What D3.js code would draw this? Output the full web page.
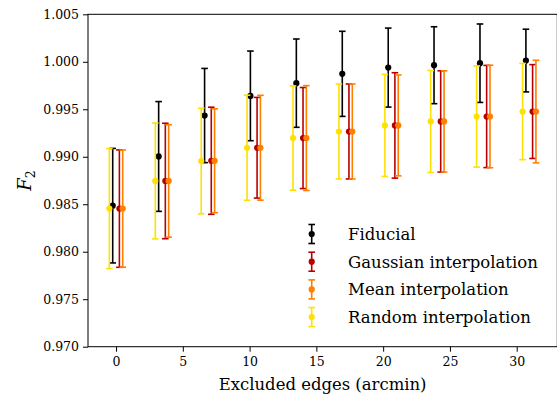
<!DOCTYPE html>
<html>
<head>
<meta charset="utf-8">
<script src="https://cdn.jsdelivr.net/npm/d3@7"></script>
<style>
  body { margin: 0; background: #fff; }
  svg { display: block; }
  text { font-family: "DejaVu Serif", serif; fill: #000; }
</style>
</head>
<body>
<svg id="chart" width="557" height="397"></svg>
<script>
// Excluded edge widths (arcmin)
const edges = [0, 3.44, 6.88, 10.31, 13.75, 17.19, 20.63, 24.06, 27.50, 30.94];

// F2 estimates and 1-sigma errors per method
const fiducial    = [0.98485, 0.99003, 0.99434, 0.99641, 0.99775, 0.99873, 0.99939, 0.99964, 0.99985, 1.00013];
const fiducialErr = [0.00603, 0.00578, 0.00496, 0.00472, 0.00465, 0.00448, 0.00416, 0.00405, 0.00413, 0.00330];

const gaussian    = [0.98454, 0.98745, 0.98958, 0.99095, 0.99197, 0.99266, 0.99330, 0.99372, 0.99424, 0.99476];
const gaussianErr = [0.00618, 0.00608, 0.00564, 0.00530, 0.00532, 0.00500, 0.00555, 0.00533, 0.00538, 0.00494];

const meanInt     = [0.98454, 0.98745, 0.98958, 0.99095, 0.99197, 0.99266, 0.99330, 0.99372, 0.99424, 0.99476];
const meanIntErr  = [0.00617, 0.00592, 0.00547, 0.00552, 0.00552, 0.00500, 0.00531, 0.00533, 0.00540, 0.00540];

const randomInt    = [0.98454, 0.98745, 0.98955, 0.99095, 0.99197, 0.99266, 0.99330, 0.99372, 0.99424, 0.99476];
const randomIntErr = [0.00632, 0.00610, 0.00556, 0.00553, 0.00549, 0.00500, 0.00537, 0.00537, 0.00533, 0.00507];

const seriesLabels = ["Fiducial", "Gaussian interpolation", "Mean interpolation", "Random interpolation"];

const xTicks = [0, 5, 10, 15, 20, 25, 30];
const yTicks = [0.970, 0.975, 0.980, 0.985, 0.990, 0.995, 1.000, 1.005];

// Series styling and horizontal dodge (in arcmin) so the bars don't overlap
const series = [
  { label: seriesLabels[0], y: fiducial,  err: fiducialErr,  color: "#000000", dx: -0.25 },
  { label: seriesLabels[1], y: gaussian,  err: gaussianErr,  color: "#b80000", dx:  0.25 },
  { label: seriesLabels[2], y: meanInt,   err: meanIntErr,   color: "#ff7f00", dx:  0.50 },
  { label: seriesLabels[3], y: randomInt, err: randomIntErr, color: "#ffe000", dx: -0.50 }
];

const FONT = '"DejaVu Serif", serif';
const svg = d3.select("#chart");
const plotL = 88, plotR = 557.3, plotT = 14.3, plotB = 346.7;

// Scale a text's font size so its rendered width lands on a target width
function fitWidth(sel, target, base) {
  sel.style("font-size", base + "px");
  const w = sel.node().getComputedTextLength();
  if (w > 0) sel.style("font-size", (base * target / w).toFixed(2) + "px");
  return parseFloat(sel.style("font-size"));
}

const x = d3.scaleLinear().domain([-2.1, 33.04]).range([plotL, plotR]);
const y = d3.scaleLinear().domain([0.970, 1.005]).range([plotB, plotT]);

// Axes
const xAxis = d3.axisBottom(x).tickValues(xTicks).tickSize(5).tickPadding(5)
  .tickFormat(d3.format("d"));
const yAxis = d3.axisLeft(y).tickValues(yTicks).tickSize(5).tickPadding(4)
  .tickFormat(d3.format(".3f"));

const gx = svg.append("g").attr("transform", `translate(0,${plotB})`).call(xAxis);
const gy = svg.append("g").attr("transform", `translate(${plotL},0)`).call(yAxis);
[gx, gy].forEach(g => {
  g.attr("font-family", FONT);
  g.select(".domain").remove();
  g.selectAll(".tick line").attr("stroke", "#000").attr("stroke-width", 1);
  g.selectAll(".tick text").attr("fill", "#000")
    .style("font-family", FONT).style("font-size", "12.5px");
});

// Frame
svg.append("rect")
  .attr("x", plotL).attr("y", plotT)
  .attr("width", plotR - plotL).attr("height", plotB - plotT)
  .attr("fill", "none").attr("stroke", "#000").attr("stroke-width", 1);

// Error bars
const capHalf = 3.3;
series.forEach(s => {
  const g = svg.append("g");
  const pts = edges.map((e, i) => ({ x: e + s.dx, y: s.y[i], err: s.err[i] }));
  g.selectAll("line.bar").data(pts).join("line")
    .attr("class", "bar")
    .attr("x1", d => x(d.x)).attr("x2", d => x(d.x))
    .attr("y1", d => y(d.y - d.err)).attr("y2", d => y(d.y + d.err))
    .attr("stroke", s.color).attr("stroke-width", 1.6);
  ["lo", "hi"].forEach(k => {
    g.selectAll("line.cap" + k).data(pts).join("line")
      .attr("class", "cap" + k)
      .attr("x1", d => x(d.x) - capHalf).attr("x2", d => x(d.x) + capHalf)
      .attr("y1", d => y(k === "lo" ? d.y - d.err : d.y + d.err))
      .attr("y2", d => y(k === "lo" ? d.y - d.err : d.y + d.err))
      .attr("stroke", s.color).attr("stroke-width", 1.6);
  });
  g.selectAll("circle").data(pts).join("circle")
    .attr("cx", d => x(d.x)).attr("cy", d => y(d.y)).attr("r", 3.1)
    .attr("fill", s.color);
});

// Axis labels
const xl = svg.append("text")
  .attr("x", (plotL + plotR) / 2).attr("y", 389.5)
  .attr("text-anchor", "middle")
  .text("Excluded edges (arcmin)");
fitWidth(xl, 208, 16.5);

const yl = svg.append("text")
  .attr("transform", `translate(31,180.5) rotate(-90)`)
  .attr("text-anchor", "middle").style("font-size", "18px");
yl.append("tspan").style("font-style", "italic").text("F");
yl.append("tspan").attr("dy", 4).style("font-size", "12.5px").text("2");

// Legend
const legX = 311.7, legY0 = 234, legStep = 27.7;
const leg = svg.append("g");
const legTexts = [];
series.forEach((s, i) => {
  const cy = legY0 + i * legStep;
  const g = leg.append("g");
  g.append("line").attr("x1", legX).attr("x2", legX).attr("y1", cy - 9.5).attr("y2", cy + 9.5)
    .attr("stroke", s.color).attr("stroke-width", 1.6);
  [-9.5, 9.5].forEach(o => g.append("line")
    .attr("x1", legX - capHalf).attr("x2", legX + capHalf).attr("y1", cy + o).attr("y2", cy + o)
    .attr("stroke", s.color).attr("stroke-width", 1.6));
  g.append("circle").attr("cx", legX).attr("cy", cy).attr("r", 3.1).attr("fill", s.color);
  legTexts.push(g.append("text").attr("x", 348).attr("y", cy + 6).text(s.label));
});
// Size the legend so its longest entry spans the same width as the axis label scale implies
const legSize = fitWidth(legTexts[1], 190, 16.5);
legTexts.forEach(t => t.style("font-size", legSize + "px"));
</script>
</body>
</html>
